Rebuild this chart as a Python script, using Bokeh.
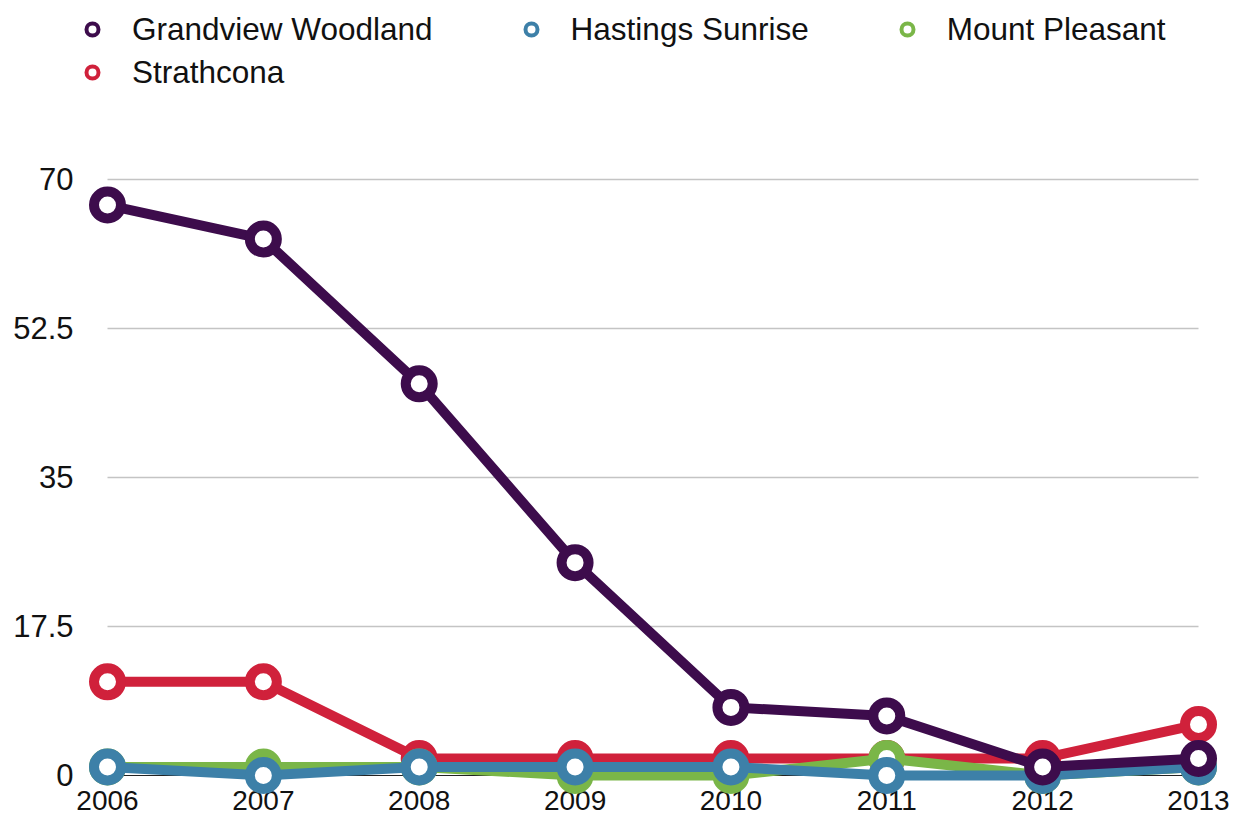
import math
from bokeh.plotting import figure
from bokeh.models import (Range1d, FixedTicker, CustomJSTickFormatter, Legend, LegendItem,
                          ColumnDataSource)
from bokeh.core.properties import value
from bokeh.embed import file_html
from bokeh.resources import INLINE

# ---- data ----
years = [2006, 2007, 2008, 2009, 2010, 2011, 2012, 2013]
grandview_woodland = [67, 63, 46, 25, 8, 7, 1, 2]
hastings_sunrise = [1, 0, 1, 1, 1, 0, 0, 1]
mount_pleasant = [1, 1, 1, 0, 0, 2, 0, 1]
strathcona = [11, 11, 2, 2, 2, 2, 2, 6]
series_names = ["Grandview Woodland", "Hastings Sunrise", "Mount Pleasant", "Strathcona"]
y_ticks = [0, 17.5, 35, 52.5, 70]

colors = {
    "Grandview Woodland": "#3d0c4c",
    "Hastings Sunrise": "#3d80a8",
    "Mount Pleasant": "#7ab648",
    "Strathcona": "#d0213b",
}
values = {
    "Grandview Woodland": grandview_woodland,
    "Hastings Sunrise": hastings_sunrise,
    "Mount Pleasant": mount_pleasant,
    "Strathcona": strathcona,
}

FONT = "Liberation Sans"
W, H = 1235, 822
BORDER_B = 30

p = figure(width=W, height=H, output_backend="svg", toolbar_location=None,
           x_range=Range1d(2005.8075, 2013.1989), y_range=Range1d(-1.997, 91.02),
           min_border_left=77, min_border_right=6, min_border_top=0,
           min_border_bottom=BORDER_B)
p.outline_line_color = None
p.xgrid.visible = False
p.ygrid.visible = False
p.background_fill_color = "white"
p.border_fill_color = "white"

# grid lines spanning the data years
p.segment(x0=[years[0]] * (len(y_ticks) - 1), x1=[years[-1]] * (len(y_ticks) - 1),
          y0=y_ticks[1:], y1=y_ticks[1:], line_color="#c4c4c4", line_width=1.5)
p.segment(x0=[years[0]], x1=[years[-1]], y0=[y_ticks[0]], y1=[y_ticks[0]],
          line_color="#222222", line_width=1.2)

# series, drawn bottom to top
for name in reversed(series_names):
    src = ColumnDataSource(dict(x=years, y=values[name]))
    ln = p.line("x", "y", source=src, line_color=colors[name], line_width=10, line_join="round")
    sc = p.scatter("x", "y", source=src, marker="circle", size=27, fill_color="white",
                   line_color=colors[name], line_width=10)
    ln.level = "overlay"
    sc.level = "overlay"

# legend using small proxy markers
items = []
for name in series_names:
    r = p.scatter(x=[math.nan], y=[math.nan], marker="circle", size=12, fill_color="white",
                  line_color=colors[name], line_width=4)
    items.append(LegendItem(label=value(name), renderers=[r]))

common = dict(glyph_width=30, glyph_height=42, label_standoff=25, spacing=83,
              label_text_font=FONT, label_text_font_size="31.5px", label_text_color="#111111",
              border_line_color=None, background_fill_alpha=0, padding=0, margin=0)
frame_bottom = H - BORDER_B
legend1 = Legend(items=items[:3], orientation="horizontal",
                 location=(0, frame_bottom - 8 - 42), **common)
legend2 = Legend(items=items[3:], orientation="horizontal",
                 location=(0, frame_bottom - 51 - 42), **common)
p.add_layout(legend1)
p.add_layout(legend2)

fmt = CustomJSTickFormatter(code="return String(tick)")

p.yaxis.ticker = FixedTicker(ticks=y_ticks)
p.yaxis.formatter = fmt
p.yaxis.axis_line_color = None
p.yaxis.major_tick_line_color = None
p.yaxis.minor_tick_line_color = None
p.yaxis.major_tick_out = 0
p.yaxis.major_label_standoff = 4
p.yaxis.major_label_text_font = FONT
p.yaxis.major_label_text_font_size = "31px"
p.yaxis.major_label_text_color = "#111111"

p.xaxis.ticker = FixedTicker(ticks=years)
p.xaxis.formatter = fmt
p.xaxis.axis_line_color = None
p.xaxis.major_tick_line_color = None
p.xaxis.minor_tick_line_color = None
p.xaxis.major_tick_out = 0
p.xaxis.major_label_standoff = -2
p.xaxis.major_label_text_font = FONT
p.xaxis.major_label_text_font_size = "28px"
p.xaxis.major_label_text_color = "#111111"

open("out.html", "w").write(file_html(p, INLINE))
